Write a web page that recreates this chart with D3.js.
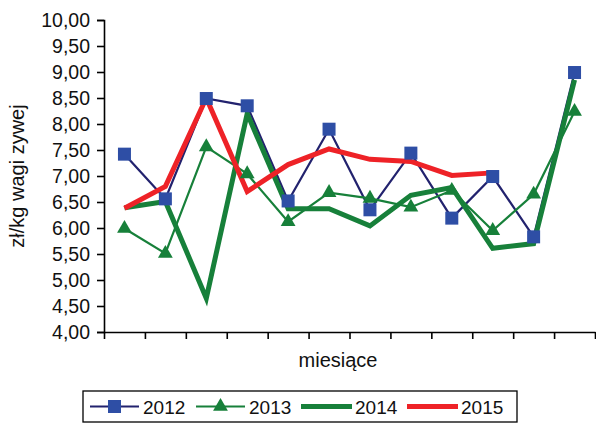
<!DOCTYPE html>
<html><head><meta charset="utf-8">
<script src="https://cdn.jsdelivr.net/npm/d3@7"></script>
<style>body{margin:0;background:#fff}svg{display:block}text{font-family:Arial,"Liberation Sans",sans-serif;fill:#111}</style>
</head><body><svg id="c" width="596" height="425"></svg>
<script>
const months = ["I","II","III","IV","V","VI","VII","VIII","IX","X","XI","XII"];
const yTicks = [4,4.5,5,5.5,6,6.5,7,7.5,8,8.5,9,9.5,10];
const v2012 = [7.42,6.56,8.49,8.35,6.52,7.90,6.35,7.44,6.19,6.99,5.83,8.99];
const v2013 = [5.99,5.51,7.56,7.04,6.12,6.68,6.57,6.40,6.72,5.95,6.65,8.24];
const v2014 = [6.39,6.51,4.65,8.20,6.37,6.37,6.04,6.63,6.78,5.61,5.70,8.85];
const v2015 = [6.38,6.80,8.50,6.70,7.22,7.52,7.32,7.28,7.01,7.06];
const yTitle = "zł/kg wagi zywej";
const xTitle = "miesiące";

const svg = d3.select("#c");
const x = d3.scaleBand().domain(months).range([104,595]);
const xEdge = d3.scaleLinear().domain([0,12]).range([104,595]);
const y = d3.scaleLinear().domain([4,10]).range([332,20]);
const fmt = d => d3.format(".2f")(d).replace(".",",");

// y axis
const ya = svg.append("g").attr("transform","translate(104,0)")
  .call(d3.axisLeft(y).tickValues(yTicks).tickFormat(fmt).tickSize(7).tickPadding(7));
ya.select(".domain").attr("stroke","#000").attr("stroke-width",1.6);
ya.selectAll(".tick line").attr("stroke","#000").attr("stroke-width",1.6);
ya.selectAll(".tick text").style("font-size","19.5px").attr("fill","#111").attr("font-family",null);

// x axis
const xa = svg.append("g").attr("transform","translate(0,332)")
  .call(d3.axisBottom(xEdge).tickValues(d3.range(0,13)).tickFormat("").tickSize(7).tickSizeOuter(0));
xa.select(".domain").attr("stroke","#000").attr("stroke-width",1.6);
xa.selectAll(".tick line").attr("stroke","#000").attr("stroke-width",1.6);

// titles
svg.append("text").attr("transform","translate(24,176) rotate(-90)").attr("text-anchor","middle")
  .style("font-size","20px").text(yTitle);
svg.append("text").attr("x",338).attr("y",367).attr("text-anchor","middle")
  .style("font-size","20px").text(xTitle);

const cx = (d,i) => x(months[i]) + x.bandwidth()/2;
const line = d3.line().x(cx).y(d => y(d));

const series = [
  {vals:v2012, color:"#22226e", w:2.2},
  {vals:v2013, color:"#17803a", w:2.2},
  {vals:v2014, color:"#17803a", w:5},
  {vals:v2015, color:"#ee2227", w:5}
];
series.forEach(s => {
  svg.append("path").datum(s.vals).attr("d",line).attr("fill","none")
    .attr("stroke",s.color).attr("stroke-width",s.w).attr("stroke-linejoin","miter");
});
const tri = d3.symbol().type(d3.symbolTriangle).size(95);
svg.append("g").selectAll("path").data(v2013).join("path")
  .attr("d",tri).attr("transform",(d,i)=>`translate(${cx(d,i)},${y(d)})`).attr("fill","#17803a");
svg.append("g").selectAll("rect").data(v2012).join("rect")
  .attr("x",(d,i)=>cx(d,i)-6.5).attr("y",d=>y(d)-6.5).attr("width",13).attr("height",13).attr("fill","#2e4ea5");

// legend
const lg = svg.append("g");
lg.append("rect").attr("x",83).attr("y",391).attr("width",434).attr("height",31)
  .attr("fill","none").attr("stroke","#000").attr("stroke-width",1.3);
const legend = [
  {name:"2012", x1:90, x2:139, tx:143, s:series[0], m:"sq"},
  {name:"2013", x1:196, x2:245, tx:249, s:series[1], m:"tri"},
  {name:"2014", x1:301, x2:352, tx:355, s:series[2], m:null},
  {name:"2015", x1:407, x2:458, tx:461, s:series[3], m:null}
];
const ly = 406.5;
legend.forEach(l => {
  lg.append("line").attr("x1",l.x1).attr("x2",l.x2).attr("y1",ly).attr("y2",ly)
    .attr("stroke",l.s.color).attr("stroke-width",l.s.w);
  const mx = (l.x1+l.x2)/2;
  if (l.m==="sq") lg.append("rect").attr("x",mx-6.5).attr("y",ly-6.5).attr("width",13).attr("height",13).attr("fill","#2e4ea5");
  if (l.m==="tri") lg.append("path").attr("d",tri).attr("transform",`translate(${mx},${ly})`).attr("fill","#17803a");
  lg.append("text").attr("x",l.tx).attr("y",ly+7).style("font-size","19px").text(l.name);
});
</script></body></html>
